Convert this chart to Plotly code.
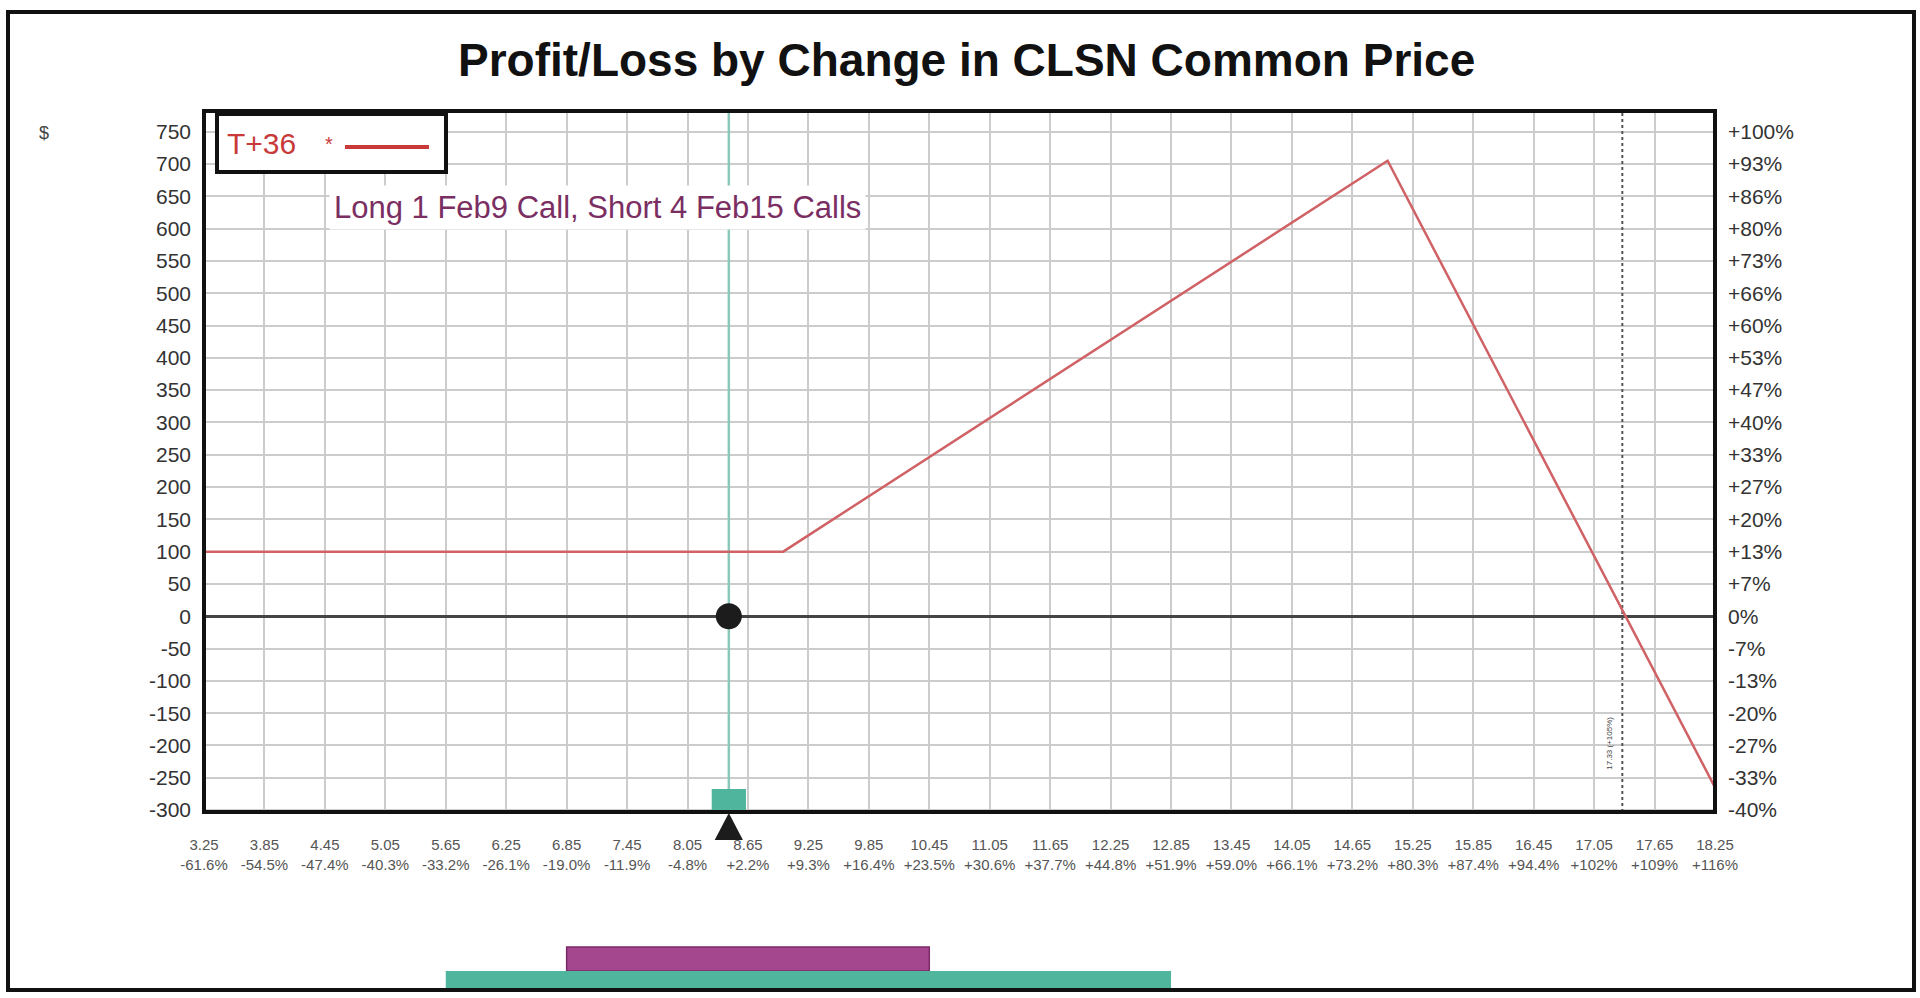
import plotly.graph_objects as go

# price grid (x ticks) and % change from current price
prices = [3.25, 3.85, 4.45, 5.05, 5.65, 6.25, 6.85, 7.45, 8.05, 8.65, 9.25, 9.85, 10.45,
          11.05, 11.65, 12.25, 12.85, 13.45, 14.05, 14.65, 15.25, 15.85, 16.45, 17.05, 17.65, 18.25]
price_pct = ["-61.6%", "-54.5%", "-47.4%", "-40.3%", "-33.2%", "-26.1%", "-19.0%", "-11.9%", "-4.8%",
             "+2.2%", "+9.3%", "+16.4%", "+23.5%", "+30.6%", "+37.7%", "+44.8%", "+51.9%", "+59.0%",
             "+66.1%", "+73.2%", "+80.3%", "+87.4%", "+94.4%", "+102%", "+109%", "+116%"]

# P/L axis ticks
pl_ticks = [750, 700, 650, 600, 550, 500, 450, 400, 350, 300, 250, 200, 150, 100, 50, 0,
            -50, -100, -150, -200, -250, -300]
pl_pct = ["+100%", "+93%", "+86%", "+80%", "+73%", "+66%", "+60%", "+53%", "+47%", "+40%", "+33%",
          "+27%", "+20%", "+13%", "+7%", "0%", "-7%", "-13%", "-20%", "-27%", "-33%", "-40%"]

# T+36 profit/loss curve
curve_price = [3.25, 9.00, 15.00, 18.25]
curve_pl = [100, 100, 705, -265]

current_price = 8.46
breakeven = 17.33
range_1sd = [6.85, 10.45]
range_2sd = [5.65, 12.85]

x_range = [3.25, 18.25]
y_range = [-303, 782]

# plot box in pixels
L, R, T, B = 204, 1715, 111, 812
W, H = R - L, B - T


def px(x):
    return (x - L) / W


def py(y):
    return (B - y) / H


fig = go.Figure()

fig.add_trace(go.Scatter(x=[current_price, current_price], y=y_range, mode="lines",
                         line=dict(color="#8cc7bb", width=2.5), hoverinfo="skip"))
fig.add_trace(go.Scatter(x=[breakeven, breakeven], y=y_range, mode="lines",
                         line=dict(color="#555555", width=2, dash="dot"), hoverinfo="skip"))
fig.add_trace(go.Scatter(x=curve_price, y=curve_pl, mode="lines",
                         line=dict(color="#d06266", width=2.5), name="T+36"))
fig.add_trace(go.Scatter(x=[current_price], y=[0], mode="markers",
                         marker=dict(color="#1c1c1c", size=26), hoverinfo="skip"))
fig.add_trace(go.Scatter(x=[None], y=[None], yaxis="y2", showlegend=False))

shapes = []
# teal marker at bottom of plot
shapes.append(dict(type="rect", xref="x", yref="paper", x0=current_price - 0.17, x1=current_price + 0.17,
                   y0=0, y1=py(789), fillcolor="#4fb59d", line=dict(width=0)))
# black triangle under the axis
shapes.append(dict(type="path", xref="x", yref="paper",
                   path=f"M {current_price} {py(813)} L {current_price - 0.14} {py(840)} "
                        f"L {current_price + 0.14} {py(840)} Z",
                   fillcolor="#1c1c1c", line=dict(width=0)))
# range bars below the chart
shapes.append(dict(type="rect", xref="x", yref="paper", x0=range_1sd[0], x1=range_1sd[1],
                   y0=py(971), y1=py(947), fillcolor="#a4478e", line=dict(color="#7c2a68", width=1.5)))
shapes.append(dict(type="rect", xref="x", yref="paper", x0=range_2sd[0], x1=range_2sd[1],
                   y0=py(989), y1=py(971), fillcolor="#4fb59d", line=dict(width=0)))
# plot border
shapes.append(dict(type="rect", xref="paper", yref="paper", x0=0, x1=1, y0=0, y1=1,
                   line=dict(color="#111111", width=4)))
# legend box
shapes.append(dict(type="rect", xref="paper", yref="paper", x0=px(217), x1=px(446), y0=py(172), y1=py(114),
                   fillcolor="white", line=dict(color="#111111", width=4)))
shapes.append(dict(type="line", xref="paper", yref="paper", x0=px(345), x1=px(429), y0=py(147), y1=py(147),
                   line=dict(color="#c83a3a", width=4)))
# outer frame
shapes.append(dict(type="rect", xref="paper", yref="paper", x0=px(8), x1=px(1914), y0=py(990), y1=py(12),
                   line=dict(color="#111111", width=4)))

annotations = [
    dict(text="<b>Profit/Loss by Change in CLSN Common Price</b>", x=px(967), y=py(60),
         xref="paper", yref="paper", showarrow=False, xanchor="center", yanchor="middle",
         font=dict(size=46, color="#111111")),
    dict(text="$", x=px(37), y=py(121), xref="paper", yref="paper", showarrow=False,
         font=dict(size=18, color="#444444")),
    dict(text="T+36", x=px(225), y=py(143), xref="paper", yref="paper", showarrow=False,
         xanchor="left", yanchor="middle", font=dict(size=30, color="#c83a3a")),
    dict(text="*", x=px(323), y=py(131), xref="paper", yref="paper", showarrow=False,
         font=dict(size=20, color="#c83a3a")),
    dict(text="Long 1 Feb9 Call, Short 4 Feb15 Calls", x=px(597), y=py(207), xref="paper", yref="paper",
         showarrow=False, xanchor="center", yanchor="middle", bgcolor="white", borderpad=4,
         font=dict(size=31, color="#7a2e62")),
    dict(text="17.33 (+105%)", x=breakeven - 0.13, y=py(772), xref="x", yref="paper", showarrow=False,
         textangle=-90, font=dict(size=8, color="#444444")),
]

fig.update_layout(
    width=1920, height=998,
    margin=dict(l=L, r=1920 - R, t=T, b=998 - B),
    paper_bgcolor="white", plot_bgcolor="white",
    showlegend=False,
    font=dict(family="Liberation Sans, Arial, sans-serif", color="#333333"),
    xaxis=dict(range=x_range, tickvals=prices,
               ticktext=[f"{p:.2f}<br>{s}" for p, s in zip(prices, price_pct)],
               tickfont=dict(size=15, color="#555555"), ticks="", ticklabelstandoff=22,
               showgrid=True, gridcolor="#cccccc", gridwidth=2, zeroline=False, showline=False),
    yaxis=dict(range=y_range, tickvals=pl_ticks, ticktext=[str(v) for v in pl_ticks],
               tickfont=dict(size=21, color="#333333"), ticks="", ticklabelstandoff=12,
               showgrid=True, gridcolor="#cccccc", gridwidth=2,
               zeroline=True, zerolinecolor="#444444", zerolinewidth=3, showline=False),
    yaxis2=dict(range=y_range, overlaying="y", side="right", tickvals=pl_ticks, ticktext=pl_pct,
                tickfont=dict(size=21, color="#333333"), ticks="", ticklabelstandoff=12,
                showgrid=False, zeroline=False, showline=False),
    shapes=shapes,
    annotations=annotations,
)

# drop the browser's default body margin so the figure fills the window
fig.write_html("out.html", config={"displayModeBar": False},
               post_script="document.body.style.margin='0px';")
